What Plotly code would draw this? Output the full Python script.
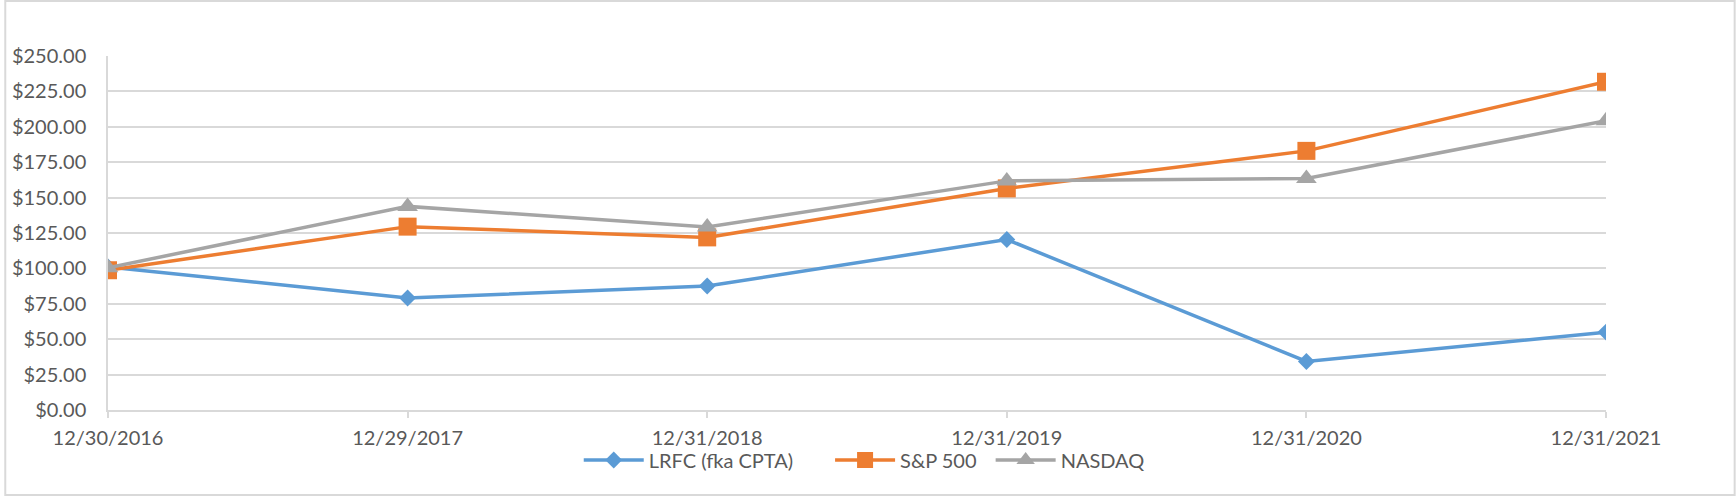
import plotly.graph_objects as go

dates = ["12/30/2016", "12/29/2017", "12/31/2018", "12/31/2019", "12/31/2020", "12/31/2021"]
lrfc = [101.0, 79.1, 87.6, 120.4, 34.3, 55.0]
sp500 = [98.7, 129.5, 121.9, 156.5, 183.0, 231.8]
nasdaq = [100.5, 143.8, 129.3, 161.8, 163.5, 204.3]

series_names = ["LRFC (fka CPTA)", "S&P 500", "NASDAQ"]
colors = ["#5B9BD5", "#ED7D31", "#A5A5A5"]
symbols = ["diamond", "square", "triangle-up"]
sizes = [13, 18, 18]
legend_ids = ["legend", "legend2", "legend3"]

W, H = 1736, 496
L, R, T, B = 104, 130, 56, 86
pw, ph = W - L - R, H - T - B

fig = go.Figure()
for name, vals, c, s, sz, lg in zip(series_names, [lrfc, sp500, nasdaq], colors, symbols, sizes, legend_ids):
    fig.add_trace(go.Scatter(
        x=dates, y=vals, name=name, mode="lines+markers",
        line=dict(color=c, width=3.5),
        marker=dict(symbol=s, size=sz, color=c, line=dict(width=0)),
        legend=lg,
    ))

# legend left edges (pixels)
leg_left_px = [576, 828, 989]
leg_common = dict(orientation="h", xanchor="left", yanchor="middle",
                  y=(H - B - 460) / ph, font=dict(size=20, color="#595959"),
                  itemwidth=60, bgcolor="rgba(0,0,0,0)")

fig.update_layout(
    width=W, height=H,
    margin=dict(l=L, r=R, t=T, b=B, pad=0),
    paper_bgcolor="white", plot_bgcolor="white",
    font=dict(family="Lato", size=20, color="#595959"),
    showlegend=True,
    legend=dict(x=(leg_left_px[0] - L) / pw, **leg_common),
    legend2=dict(x=(leg_left_px[1] - L) / pw, **leg_common),
    legend3=dict(x=(leg_left_px[2] - L) / pw, **leg_common),
    xaxis=dict(type="category", range=[0, len(dates) - 1],
               showgrid=False, showline=True, linecolor="#D9D9D9", linewidth=1.5,
               ticks="outside", ticklen=6, tickcolor="#D9D9D9", tickwidth=1.5,
               tickfont=dict(size=20, color="#595959"), ticklabelstandoff=3,
               zeroline=False, fixedrange=True),
    yaxis=dict(range=[0, 250], dtick=25, tick0=0, tickprefix="$", tickformat=",.2f",
               showgrid=True, gridcolor="#D9D9D9", gridwidth=1.5,
               showline=True, linecolor="#D9D9D9", linewidth=1.5,
               zeroline=False, ticks="", tickfont=dict(size=20, color="#595959"),
               ticklabelstandoff=16, fixedrange=True),
    shapes=[dict(type="rect", xref="paper", yref="paper",
                 x0=(1 - L) / pw, x1=(W - 1 - L) / pw,
                 y0=(H - B - (H - 1)) / ph, y1=(H - B - 1) / ph,
                 line=dict(color="#D9D9D9", width=2), fillcolor="rgba(0,0,0,0)",
                 layer="below")],
)

fig.write_html("out.html", config={"displayModeBar": False},
               post_script="document.body.style.margin='0';")
